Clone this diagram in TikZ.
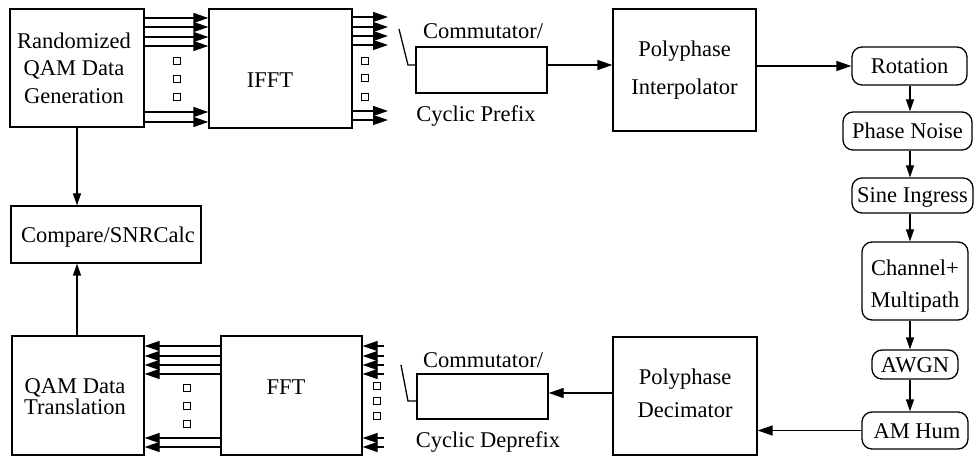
\documentclass[tikz,border=0pt]{standalone}
\usepackage{fontspec}
\setmainfont{Liberation Serif}
\usetikzlibrary{arrows.meta}

\newcommand{\txtfont}[1]{\rmfamily\fontsize{22.5}{#1}\selectfont}

\tikzset{
  every node/.style={font=\txtfont{27.5}},
  blk/.style={draw, line width=1.3pt, inner sep=0pt},
  rblk/.style={blk, rounded corners=10pt},
  lbl/.style={inner sep=0pt, anchor=base},
  mlbl/.style={inner sep=0pt, align=center},
  arr/.style={line width=1.3pt, -{Triangle[length=15pt,width=10pt]}},
  varr/.style={line width=1.3pt, -{Triangle[length=12pt,width=8pt]}},
  ln/.style={line width=1.3pt},
  dotsq/.style={draw, line width=1.1pt, minimum width=6.5pt, minimum height=6.5pt, inner sep=0pt}
}

\begin{document}
\begin{tikzpicture}[x=1pt, y=-1pt]
\useasboundingbox (0,0) rectangle (975,457);

% ---- transmitter row ----
\node[blk, minimum width=134pt, minimum height=118pt] (gen) at (77,68) {};
\node[mlbl] (genlbl) at (74,68) {Randomized\\QAM Data\\Generation};
\node[blk, minimum width=143pt, minimum height=119pt] (ifft) at (280.5,68.5) {};
\node[lbl] (ifftlbl) at (270,88) {IFFT};
\node[blk, minimum width=131pt, minimum height=46pt] (comA) at (481.5,70) {};
\node[lbl] (comAtop) at (483,39) {Commutator/};
\node[lbl] (comAbot) at (476,122) {Cyclic Prefix};
\node[blk, minimum width=143pt, minimum height=122pt] (interp) at (684.5,70) {};
\node[lbl] (interpA) at (684.5,57) {Polyphase};
\node[lbl] (interpB) at (684.5,95) {Interpolator};

% ---- channel column ----
\node[rblk, minimum width=115pt, minimum height=38pt] (rot) at (909.5,66) {};
\node[lbl] (rotlbl) at (909.5,74) {Rotation};
\node[rblk, minimum width=129pt, minimum height=38pt] (pn) at (907.5,131) {};
\node[lbl] (pnlbl) at (907.5,139) {Phase Noise};
\node[rblk, minimum width=121pt, minimum height=35pt] (si) at (912.5,195.5) {};
\node[lbl] (silbl) at (912.5,203) {Sine Ingress};
\node[rblk, minimum width=106pt, minimum height=78pt] (ch) at (915,281) {};
\node[lbl] (chA) at (915,276) {Channel+};
\node[lbl] (chB) at (915,308) {Multipath};
\node[rblk, minimum width=86pt, minimum height=29pt] (awgn) at (915,364.5) {};
\node[lbl] (awgnlbl) at (915,372) {AWGN};
\node[rblk, minimum width=106pt, minimum height=37pt] (hum) at (915,430.5) {};
\node[lbl] (humlbl) at (917,438) {AM Hum};

% ---- receiver row ----
\node[blk, minimum width=144pt, minimum height=118pt] (dec) at (685,396) {};
\node[lbl] (decA) at (685,384) {Polyphase};
\node[lbl] (decB) at (685,417) {Decimator};
\node[blk, minimum width=131pt, minimum height=45pt] (comB) at (482.5,396.5) {};
\node[lbl] (comBtop) at (483,367) {Commutator/};
\node[lbl] (comBbot) at (488,447) {Cyclic Deprefix};
\node[blk, minimum width=141pt, minimum height=119pt] (fft) at (291.5,395.5) {};
\node[lbl] (fftlbl) at (286,394) {FFT};
\node[blk, minimum width=132pt, minimum height=119pt] (trans) at (78,395.5) {};
\node[lbl] (transA) at (75,393) {QAM Data};
\node[lbl] (transB) at (75,414) {Translation};

\node[blk, minimum width=190pt, minimum height=57pt] (cmp) at (106,234.5) {};
\node[lbl] (cmplbl) at (108,243) {Compare/SNRCalc};

% ---- parallel lanes: generator -> IFFT ----
\foreach \yy in {18,27,37,46,112,122}
  \draw[arr] (gen.east |- 0,\yy) -- (ifft.west |- 0,\yy);
\foreach \yy/\nm in {61/a,79/b,97/c}
  \node[dotsq] (sqA\nm) at (177,\yy) {};

% ---- IFFT outputs ----
\coordinate (ifftout) at (388,0);
\foreach \yy in {17,27,36,45,111,120}
  \draw[arr] (ifft.east |- 0,\yy) -- (ifftout |- 0,\yy);
\foreach \yy/\nm in {61/a,78/b,97/c}
  \node[dotsq] (sqB\nm) at (365,\yy) {};

% commutator switch and onward
\coordinate (swA) at (399,29);
\coordinate (swAk) at (408,65);
\draw[ln] (swA) -- (swAk) -- (comA.west |- swAk);
\draw[arr] (comA.east |- swAk) -- (interp.west |- swAk);
\draw[arr] (interp.east |- rot.west) -- (rot.west);

% ---- channel chain ----
\draw[varr] (rot.south -| 910,0) -- (pn.north -| 910,0);
\draw[varr] (pn.south -| 910,0) -- (si.north -| 910,0);
\draw[varr] (si.south -| 910,0) -- (ch.north -| 910,0);
\draw[varr] (ch.south -| 910,0) -- (awgn.north -| 910,0);
\draw[varr] (awgn.south -| 910,0) -- (hum.north -| 910,0);
\draw[arr] (hum.west) -- (dec.east |- hum.west);

% ---- receiver path ----
\coordinate (swBk) at (408,401);
\coordinate (swB) at (401,365);
\draw[arr] (dec.west |- 0,393) -- (comB.east |- 0,393);
\draw[ln] (swB) -- (swBk) -- (comB.west |- swBk);

\coordinate (fftin) at (384,0);
\foreach \yy in {346,356,365,374,438,447}
  \draw[arr] (fftin |- 0,\yy) -- (fft.east |- 0,\yy);
\foreach \yy/\nm in {386/a,401/b,416/c}
  \node[dotsq] (sqC\nm) at (377,\yy) {};

\foreach \yy in {346,356,365,374,438,447}
  \draw[arr] (fft.west |- 0,\yy) -- (trans.east |- 0,\yy);
\foreach \yy/\nm in {388/a,406/b,424/c}
  \node[dotsq] (sqD\nm) at (187,\yy) {};

% ---- comparison ----
\draw[varr] (gen.south) -- (gen.south |- cmp.north);
\draw[varr] (trans.north -| gen.south) -- (cmp.south -| gen.south);
\end{tikzpicture}
\end{document}
